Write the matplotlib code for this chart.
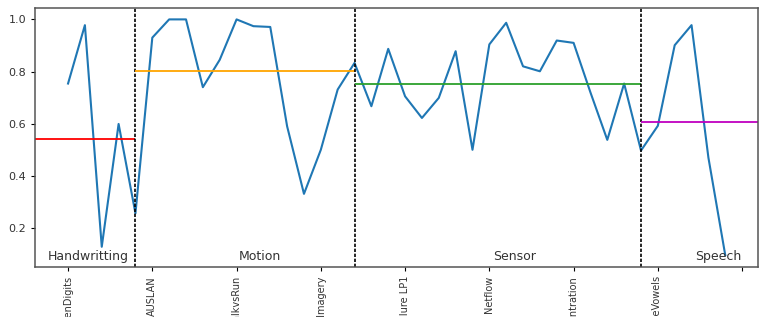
import matplotlib
matplotlib.use("Agg")
import matplotlib.pyplot as plt
import matplotlib.transforms as mtransforms
import numpy as np

# accuracy per dataset, in plotting order
scores = [
    0.754, 0.978, 0.128, 0.599, 0.256,                      # Handwritting
    0.930, 1.000, 1.000, 0.740, 0.845, 1.000, 0.974, 0.971,
    0.590, 0.331, 0.500, 0.731, 0.833,                      # Motion
    0.667, 0.887, 0.705, 0.622, 0.699, 0.878, 0.500, 0.904,
    0.987, 0.820, 0.801, 0.919, 0.910, 0.720, 0.538, 0.754,
    0.497,                                                  # Sensor
    0.592, 0.901, 0.978, 0.470, 0.096,                      # Speech
]
groups = ["Handwritting", "Motion", "Sensor", "Speech"]
group_ends = [4, 17, 34, 39]  # last index of each group
group_colors = ["red", "orange", "tab:green", "m"]
tick_names = ["PenDigits", "AUSLAN", "WalkvsRun", "MotorImagery",
              "RobotFailure LP1", "Netflow", "GasConcentration",
              "JapaneseVowels", ""]

# where the group names sit (x in data units)
label_x = [1.2, 11.4, 26.5, 38.6]


def main():
    fig = plt.figure(figsize=(7.65, 3.17), dpi=100)
    ax = fig.add_axes([0.046, 0.158, 0.945, 0.818])

    x = np.arange(len(scores))
    ax.plot(x, scores, color="#1f77b4", linewidth=1.5)
    xmin, xmax = ax.get_xlim()

    start = xmin
    vals = np.array(scores)
    prev = -1
    for i, (end, col) in enumerate(zip(group_ends, group_colors)):
        mean = vals[prev + 1:end + 1].mean()
        stop = xmax if i == len(group_ends) - 1 else end
        ax.hlines(mean, start, stop, color=col, linewidth=1.3)
        if i < len(group_ends) - 1:
            ax.axvline(end, color="black", linewidth=1.2, linestyle=(0, (2, 1)))
        start = end
        prev = end
    ax.set_xlim(xmin, xmax)

    trans = mtransforms.blended_transform_factory(ax.transData, ax.transAxes)
    for name, lx in zip(groups, label_x):
        ax.text(lx, 0.04, name, transform=trans, ha="center", va="center",
                fontsize=9, color="#333333")

    ax.set_xticks(range(0, 41, 5))
    ax.set_xticklabels(tick_names, rotation=90, fontsize=7, color="#333333")
    ax.set_yticks([0.2, 0.4, 0.6, 0.8, 1.0])
    ax.tick_params(axis="y", labelsize=8, labelcolor="#333333", length=3)
    ax.tick_params(axis="x", length=3)
    for sp in ax.spines.values():
        sp.set_color("#555555")
        sp.set_linewidth(1.1)

    fig.savefig("out.png", dpi=100)


if __name__ == "__main__":
    main()
